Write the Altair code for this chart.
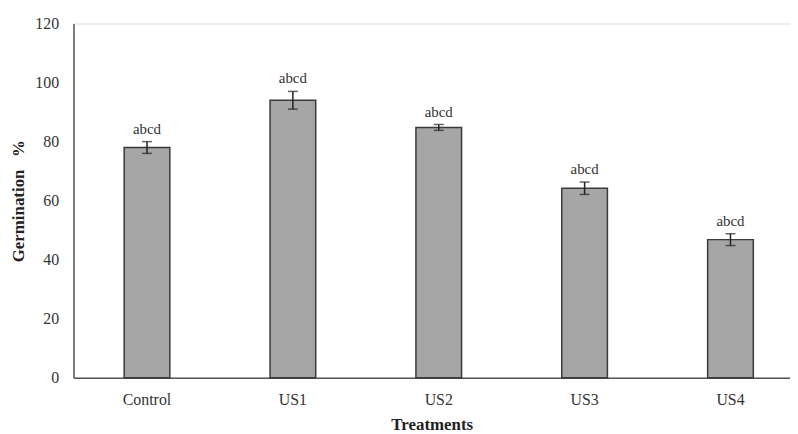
import altair as alt
import pandas as pd

treatments = ["Control", "US1", "US2", "US3", "US4"]
germination = [78.0, 94.0, 84.8, 64.2, 46.8]
errors = [2.0, 3.0, 1.0, 2.1, 2.0]
letters = ["abcd", "abcd", "abcd", "abcd", "abcd"]

df = pd.DataFrame({
    "Treatment": treatments,
    "Germination": germination,
    "lo": [g - e for g, e in zip(germination, errors)],
    "hi": [g + e for g, e in zip(germination, errors)],
    "label": letters,
})

FONT = "Liberation Serif"

x = alt.X(
    "Treatment:N",
    sort=treatments,
    scale=alt.Scale(paddingInner=0.687, paddingOuter=0.2995, align=0.58),
    axis=alt.Axis(
        title="Treatments", labelAngle=0, ticks=False, labelPadding=14,
        labelFontSize=16, labelFont=FONT, labelColor="#333333",
        titleFont=FONT, titleFontSize=17, titleFontWeight="bold",
        titleColor="#222222", titlePadding=9,
        domainColor="#555555", domainWidth=1.5,
    ),
)

y_scale = alt.Scale(domain=[0, 120], nice=False)

bars = alt.Chart(df).mark_bar(
    color="#a6a6a6", stroke="#3a3a3a", strokeWidth=1.5
).encode(
    x=x,
    y=alt.Y(
        "Germination:Q",
        scale=y_scale,
        axis=alt.Axis(
            title="Germination\u00a0\u00a0\u00a0%", values=[0, 20, 40, 60, 80, 100, 120],
            ticks=False, grid=False, labelPadding=15,
            labelFontSize=16, labelFont=FONT, labelColor="#333333",
            titleFont=FONT, titleFontSize=17, titleFontWeight="bold",
            titleColor="#222222", titlePadding=7,
            domainColor="#555555", domainWidth=1.5,
        ),
    ),
)

err = alt.Chart(df).mark_rule(color="#222222", strokeWidth=1.5).encode(
    x=alt.X("Treatment:N", sort=treatments),
    y=alt.Y("lo:Q", scale=y_scale),
    y2="hi:Q",
)

cap_hi = alt.Chart(df).mark_tick(color="#222222", thickness=1.5, size=10).encode(
    x=alt.X("Treatment:N", sort=treatments),
    y=alt.Y("hi:Q", scale=y_scale),
)

cap_lo = alt.Chart(df).mark_tick(color="#222222", thickness=1.5, size=10).encode(
    x=alt.X("Treatment:N", sort=treatments),
    y=alt.Y("lo:Q", scale=y_scale),
)

text = alt.Chart(df).mark_text(
    font=FONT, fontSize=15, color="#333333", dy=-5, baseline="bottom"
).encode(
    x=alt.X("Treatment:N", sort=treatments),
    y=alt.Y("hi:Q", scale=y_scale),
    text="label:N",
)

chart = alt.layer(bars, err, cap_hi, cap_lo, text).properties(
    width=722,
    height=357,
    autosize=alt.AutoSizeParams(type="none"),
    padding={"left": 66, "top": 14, "right": 0, "bottom": 55},
).configure_view(stroke=None).configure(background="white")

chart.save("out.html", embed_options={"renderer": "svg", "actions": False})
